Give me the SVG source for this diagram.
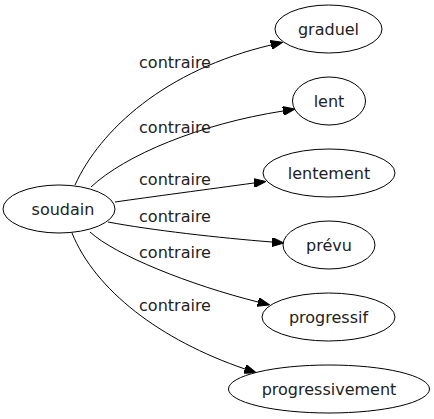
<svg xmlns="http://www.w3.org/2000/svg" width="434" height="419" viewBox="0 0 434 419">
<style>
.node ellipse{fill:#fff;stroke:#000;stroke-width:1}
.node text,.lbl{font-family:"DejaVu Sans",sans-serif;font-size:16px;fill:#222;text-anchor:middle}
.edge path{fill:none;stroke:#000;stroke-width:1}
</style>
<defs>
<marker id="ah" viewBox="0 0 12 9" refX="0" refY="4.5" markerWidth="12" markerHeight="9" markerUnits="userSpaceOnUse" orient="auto">
<path d="M0,0 L12,4.5 L0,9 z" fill="#000" stroke="#000" stroke-width="1"/>
</marker>
</defs>
<g id="edges" class="edge">
<path d="M75,185 C100,130 165,70 271,45" marker-end="url(#ah)"/>
<path d="M91,187 C125,155 200,124 283,111" marker-end="url(#ah)"/>
<path d="M115,202 C150,197 210,189 254,183" marker-end="url(#ah)"/>
<path d="M108,222 C150,230 220,238 272,242" marker-end="url(#ah)"/>
<path d="M90,232 C115,255 190,285 258,302" marker-end="url(#ah)"/>
<path d="M72,233 C95,290 160,340 245,369" marker-end="url(#ah)"/>
<text class="lbl" x="175" y="68">contraire</text>
<text class="lbl" x="175" y="133">contraire</text>
<text class="lbl" x="175" y="185">contraire</text>
<text class="lbl" x="175" y="222">contraire</text>
<text class="lbl" x="175" y="258">contraire</text>
<text class="lbl" x="175" y="311">contraire</text>
</g>
<g id="soudain" class="node"><ellipse cx="59" cy="209" rx="56" ry="24"/><text x="63" y="214.5">soudain</text></g>
<g id="graduel" class="node"><ellipse cx="328.5" cy="29" rx="53.5" ry="24"/><text x="328.5" y="34.5">graduel</text></g>
<g id="lent" class="node"><ellipse cx="329" cy="101" rx="36.5" ry="24"/><text x="329" y="106.5">lent</text></g>
<g id="lentement" class="node"><ellipse cx="329" cy="173" rx="66" ry="24"/><text x="329" y="178.5">lentement</text></g>
<g id="prevu" class="node"><ellipse cx="329" cy="245" rx="46" ry="24"/><text x="329" y="250.5">prévu</text></g>
<g id="progressif" class="node"><ellipse cx="328.5" cy="317" rx="66.5" ry="24"/><text x="328.5" y="322.5">progressif</text></g>
<g id="progressivement" class="node"><ellipse cx="329" cy="389" rx="100.5" ry="24"/><text x="329" y="394.5">progressivement</text></g>
</svg>
